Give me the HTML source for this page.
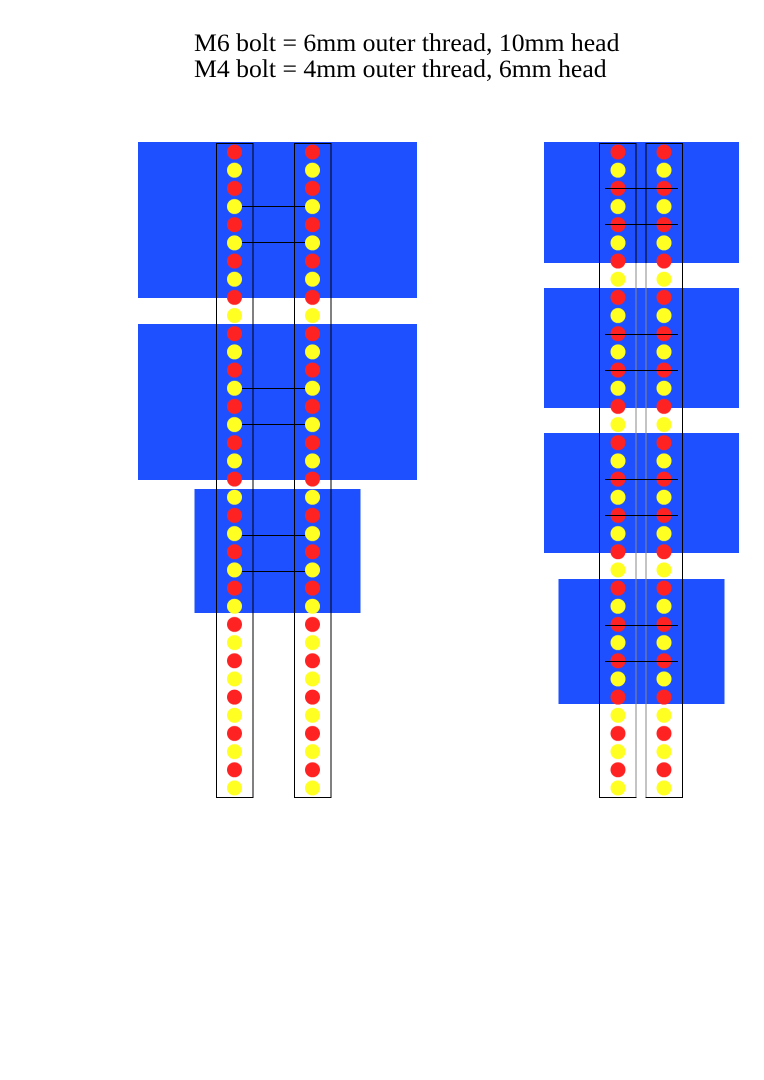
<!DOCTYPE html>
<html><head><meta charset="utf-8"><style>html,body{margin:0;padding:0;background:#fff}svg{display:block}</style></head>
<body>
<svg width="764" height="1080" viewBox="0 0 764 1080" xmlns="http://www.w3.org/2000/svg">
<defs>
<pattern id="p1" patternUnits="userSpaceOnUse" x="224.5" y="142.915" width="20" height="36.34"><circle cx="10" cy="9.085" r="7.5" fill="#ff2222"/><circle cx="10" cy="27.255" r="7.5" fill="#ffff22"/></pattern>
<pattern id="p2" patternUnits="userSpaceOnUse" x="302.5" y="142.915" width="20" height="36.34"><circle cx="10" cy="9.085" r="7.5" fill="#ff2222"/><circle cx="10" cy="27.255" r="7.5" fill="#ffff22"/></pattern>
<pattern id="p3" patternUnits="userSpaceOnUse" x="608" y="142.915" width="20" height="36.34"><circle cx="10" cy="9.085" r="7.5" fill="#ff2222"/><circle cx="10" cy="27.255" r="7.5" fill="#ffff22"/></pattern>
<pattern id="p4" patternUnits="userSpaceOnUse" x="654" y="142.915" width="20" height="36.34"><circle cx="10" cy="9.085" r="7.5" fill="#ff2222"/><circle cx="10" cy="27.255" r="7.5" fill="#ffff22"/></pattern>
</defs>
<text x="194" y="51" font-family="Liberation Serif, serif" font-size="25.7" fill="#000">M6 bolt = 6mm outer thread, 10mm head</text>
<text x="194" y="77" font-family="Liberation Serif, serif" font-size="25.7" fill="#000">M4 bolt = 4mm outer thread, 6mm head</text>
<g fill="#1f50ff">
<rect x="138" y="142" width="279" height="156"/>
<rect x="138" y="324" width="279" height="156"/>
<rect x="194.5" y="489" width="166" height="124"/>
<rect x="544" y="142" width="195" height="121"/>
<rect x="544" y="288" width="195" height="120"/>
<rect x="544" y="433" width="195" height="120"/>
<rect x="558.5" y="579" width="166" height="125"/>
</g>
<rect x="224.5" y="142.915" width="20" height="654.1" fill="url(#p1)"/>
<rect x="302.5" y="142.915" width="20" height="654.1" fill="url(#p2)"/>
<rect x="608" y="142.915" width="20" height="654.1" fill="url(#p3)"/>
<rect x="654" y="142.915" width="20" height="654.1" fill="url(#p4)"/>
<g fill="none" stroke="#000" stroke-width="1">
<rect x="216.5" y="143.5" width="36.5" height="654"/>
<rect x="294.5" y="143.5" width="36.5" height="654"/>
<rect x="599.5" y="143.5" width="36.5" height="654"/>
<rect x="646" y="143.5" width="36.5" height="654"/>
</g>
<g stroke="#888" stroke-width="1"><line x1="636" y1="263" x2="636" y2="797"/><line x1="646" y1="263" x2="646" y2="797"/></g>
<g stroke="#000" stroke-width="1">
<line x1="242" y1="206.5" x2="305" y2="206.5"/>
<line x1="242" y1="242.5" x2="305" y2="242.5"/>
<line x1="242" y1="388.5" x2="305" y2="388.5"/>
<line x1="242" y1="424.5" x2="305" y2="424.5"/>
<line x1="242" y1="535.5" x2="305" y2="535.5"/>
<line x1="242" y1="571.5" x2="305" y2="571.5"/>
<line x1="605" y1="188.5" x2="678" y2="188.5"/>
<line x1="605" y1="224.5" x2="678" y2="224.5"/>
<line x1="605" y1="334.5" x2="678" y2="334.5"/>
<line x1="605" y1="370.5" x2="678" y2="370.5"/>
<line x1="605" y1="479.5" x2="678" y2="479.5"/>
<line x1="605" y1="515.5" x2="678" y2="515.5"/>
<line x1="605" y1="625.5" x2="678" y2="625.5"/>
<line x1="605" y1="661.5" x2="678" y2="661.5"/>
</g>
</svg>
</body></html>
